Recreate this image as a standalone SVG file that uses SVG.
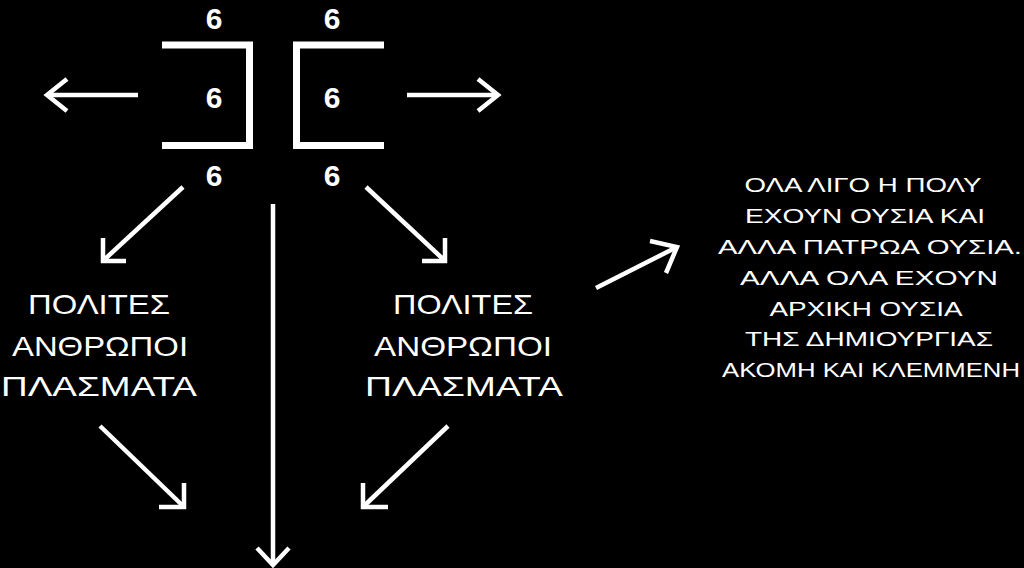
<svg xmlns="http://www.w3.org/2000/svg" width="1024" height="568" viewBox="0 0 1024 568">
<style>
.bg{fill:#000}
.br{fill:none;stroke:#fff;stroke-width:7;stroke-linejoin:miter}
.num{fill:#fff;font-family:"Liberation Sans","Open Sans",sans-serif;font-weight:bold;font-size:30px;text-anchor:middle}
.ln{fill:none;stroke:#fff;stroke-width:4.5;stroke-linecap:butt}
.hd{fill:none;stroke:#fff;stroke-width:4.5;stroke-linejoin:miter;stroke-linecap:butt}
.gk{fill:#fff;font-family:"Liberation Sans","DejaVu Sans",sans-serif;font-size:28px;text-anchor:middle}
.gs{fill:#fff;font-family:"Liberation Sans","DejaVu Sans",sans-serif;font-size:21px;text-anchor:middle}
</style>
<rect class="bg" x="0" y="0" width="1024" height="568"/>
<g id="bracket-left">
<path class="br" d="M162 45 H249.5 V145.5 H162"/>
<text class="num" x="214" y="29">6</text>
<text class="num" x="214" y="108">6</text>
<text class="num" x="214" y="186">6</text>
</g>
<g id="bracket-right">
<path class="br" d="M384 45 H296.5 V145.5 H384"/>
<text class="num" x="332" y="29">6</text>
<text class="num" x="332" y="108">6</text>
<text class="num" x="332" y="186">6</text>
</g>
<g id="group-left">
<text class="gk" x="99" y="314" textLength="142" lengthAdjust="spacingAndGlyphs">ΠΟΛΙΤΕΣ</text>
<text class="gk" x="100" y="356" textLength="176" lengthAdjust="spacingAndGlyphs">ΑΝΘΡΩΠΟΙ</text>
<text class="gk" x="99" y="396" textLength="196" lengthAdjust="spacingAndGlyphs">ΠΛΑΣΜΑΤΑ</text>
</g>
<g id="group-right">
<text class="gk" x="463" y="314" textLength="140" lengthAdjust="spacingAndGlyphs">ΠΟΛΙΤΕΣ</text>
<text class="gk" x="463" y="356" textLength="178" lengthAdjust="spacingAndGlyphs">ΑΝΘΡΩΠΟΙ</text>
<text class="gk" x="464" y="396" textLength="198" lengthAdjust="spacingAndGlyphs">ΠΛΑΣΜΑΤΑ</text>
</g>
<g id="text-right">
<text class="gs" x="863" y="192" textLength="237" lengthAdjust="spacingAndGlyphs">ΟΛΑ ΛΙΓΟ Η ΠΟΛΥ</text>
<text class="gs" x="865" y="223" textLength="240" lengthAdjust="spacingAndGlyphs">ΕΧΟΥΝ ΟΥΣΙΑ ΚΑΙ</text>
<text class="gs" x="870" y="254" textLength="304" lengthAdjust="spacingAndGlyphs">ΑΛΛΑ ΠΑΤΡΩΑ ΟΥΣΙΑ.</text>
<text class="gs" x="869" y="285" textLength="258" lengthAdjust="spacingAndGlyphs">ΑΛΛΑ ΟΛΑ ΕΧΟΥΝ</text>
<text class="gs" x="866" y="316" textLength="193" lengthAdjust="spacingAndGlyphs">ΑΡΧΙΚΗ ΟΥΣΙΑ</text>
<text class="gs" x="869" y="346" textLength="248" lengthAdjust="spacingAndGlyphs">ΤΗΣ ΔΗΜΙΟΥΡΓΙΑΣ</text>
<text class="gs" x="871" y="377" textLength="298" lengthAdjust="spacingAndGlyphs">ΑΚΟΜΗ ΚΑΙ ΚΛΕΜΜΕΝΗ</text>
</g>
<g id="connectors">
<line class="ln" x1="138" y1="95" x2="49" y2="95"/>
<polyline class="hd" points="67,79 47,95 67,111"/>
<line class="ln" x1="407" y1="95" x2="496" y2="95"/>
<polyline class="hd" points="478,79 498,95 478,111"/>
<line class="ln" x1="183" y1="187" x2="105" y2="259"/>
<polyline class="hd" points="103,238 103,261 126,261"/>
<line class="ln" x1="366" y1="187" x2="443" y2="259"/>
<polyline class="hd" points="445,238 445,261 422,261"/>
<line class="ln" x1="273" y1="204" x2="273" y2="563"/>
<polyline class="hd" points="257,548 273,565 289,548"/>
<line class="ln" x1="596" y1="288" x2="675" y2="248"/>
<polyline class="hd" points="650,241 677,247 666,273"/>
<line class="ln" x1="100" y1="426" x2="182" y2="505"/>
<polyline class="hd" points="159,507 184,507 184,483"/>
<line class="ln" x1="448" y1="426" x2="365" y2="505"/>
<polyline class="hd" points="388,507 363,507 363,483"/>
</g>
</svg>
